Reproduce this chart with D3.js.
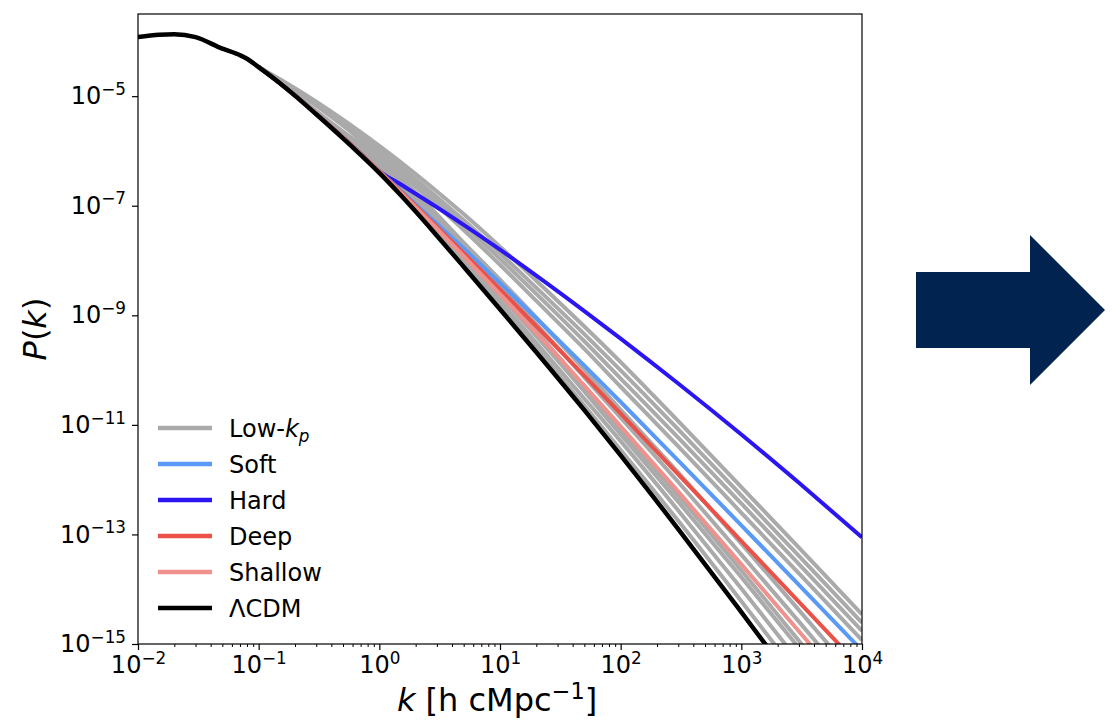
<!DOCTYPE html>
<html>
<head>
<meta charset="utf-8">
<script src="https://cdn.jsdelivr.net/npm/d3@7"></script>
<style>
  body { margin: 0; background: #fff; }
  svg { font-family: "DejaVu Sans", sans-serif; }
</style>
</head>
<body>
<div id="chart"></div>
<script>
// ---- data (P values stored as log10 exponents) ----
const kLcdm = [0.01, 0.015, 0.02, 0.03, 0.05, 0.07, 0.08, 0.1, 0.15, 0.2, 0.3, 0.5, 0.7, 1, 1.5, 2, 3, 5, 10, 20, 50, 100, 300, 1000, 3000, 10000];
const lcdmExp = [-3.92, -3.878, -3.87, -3.923, -4.133, -4.252, -4.316, -4.47, -4.763, -4.99, -5.33, -5.77, -6.07, -6.40, -6.805, -7.107, -7.547, -8.113, -8.89, -9.673, -10.732, -11.557, -12.902, -14.419, -15.821, -17.374];

const kModel = [0.1, 0.15, 0.2, 0.3, 0.5, 0.7, 1, 1.5, 2, 3, 5, 10, 20, 50, 100, 300, 1000, 3000, 10000];
const softExp = [-4.47, -4.763, -4.99, -5.325, -5.755, -6.05, -6.37, -6.72, -6.975, -7.33, -7.781, -8.413, -9.054, -9.918, -10.583, -11.651, -12.833, -13.921, -15.119];
const hardExp = [-4.47, -4.763, -4.99, -5.325, -5.755, -6.05, -6.37, -6.609, -6.782, -7.028, -7.35, -7.802, -8.275, -8.922, -9.425, -10.245, -11.176, -12.058, -13.052];
const deepExp = [-4.47, -4.763, -4.99, -5.325, -5.755, -6.05, -6.37, -6.74, -7.005, -7.382, -7.864, -8.526, -9.2, -10.103, -10.795, -11.902, -13.12, -14.231, -15.45];
const shallowExp = [-4.47, -4.763, -4.99, -5.325, -5.757, -6.055, -6.38, -6.758, -7.031, -7.42, -7.92, -8.612, -9.322, -10.285, -11.026, -12.219, -13.547, -14.768, -16.117];

// low-k_p family (grey), from the one closest to LCDM up to the highest one
const lowKpExp = [
  [-4.47, -4.763, -4.987, -5.322, -5.752, -6.042, -6.36, -6.76, -7.059, -7.495, -8.057, -8.83, -9.603, -10.647, -11.457, -12.752, -14.219, -15.581, -17.094],
  [-4.47, -4.761, -4.982, -5.31, -5.725, -6.0, -6.30, -6.695, -6.989, -7.419, -7.975, -8.74, -9.503, -10.522, -11.297, -12.562, -13.989, -15.321, -16.794],
  [-4.47, -4.759, -4.978, -5.30, -5.70, -5.965, -6.25, -6.64, -6.929, -7.352, -7.898, -8.64, -9.383, -10.392, -11.177, -12.402, -13.779, -15.071, -16.504],
  [-4.47, -4.757, -4.974, -5.29, -5.68, -5.93, -6.20, -6.585, -6.869, -7.287, -7.823, -8.55, -9.293, -10.302, -11.087, -12.292, -13.659, -14.941, -16.354],
  [-4.47, -4.755, -4.97, -5.28, -5.66, -5.90, -6.15, -6.525, -6.807, -7.217, -7.743, -8.45, -9.163, -10.132, -10.867, -12.042, -13.369, -14.591, -15.954],
  [-4.47, -4.753, -4.966, -5.272, -5.645, -5.875, -6.12, -6.485, -6.757, -7.157, -7.673, -8.35, -9.043, -9.992, -10.727, -11.872, -13.169, -14.381, -15.724],
  [-4.47, -4.71, -4.895, -5.171, -5.54, -5.798, -6.079, -6.405, -6.652, -6.999, -7.442, -8.078, -8.738, -9.614, -10.304, -11.392, -12.605, -13.712, -14.931],
  [-4.47, -4.705, -4.885, -5.151, -5.51, -5.758, -6.029, -6.345, -6.582, -6.919, -7.352, -7.968, -8.608, -9.474, -10.154, -11.232, -12.435, -13.542, -14.761],
  [-4.47, -4.70, -4.875, -5.131, -5.48, -5.718, -5.979, -6.285, -6.512, -6.839, -7.262, -7.868, -8.498, -9.344, -10.004, -11.082, -12.285, -13.392, -14.611],
  [-4.47, -4.69, -4.855, -5.101, -5.43, -5.658, -5.909, -6.205, -6.422, -6.739, -7.152, -7.748, -8.368, -9.204, -9.854, -10.932, -12.135, -13.242, -14.461]
];

const xTickExp = [-2, -1, 0, 1, 2, 3, 4];
const yTickExp = [-15, -13, -11, -9, -7, -5];
const legendNames = ["Low-k_p", "Soft", "Hard", "Deep", "Shallow", "ΛCDM"];
const legendColors = ["#aaaaaa", "#5a9af6", "#2b16f2", "#ea5249", "#ef918d", "#000000"];

// ---- layout ----
const W = 1115, H = 728;
const margin = { top: 14, right: 253, bottom: 84, left: 138 };
const width = W - margin.left - margin.right,
  height = H - margin.top - margin.bottom;

const svg = d3.select("#chart").append("svg")
  .attr("width", W)
  .attr("height", H);

const g = svg.append("g")
  .attr("transform", `translate(${margin.left},${margin.top})`);

const x = d3.scaleLog().domain([1e-2, 1e4]).range([0, width]);
const y = d3.scaleLog().domain([1e-15, Math.pow(10, -3.5)]).range([height, 0]);

g.append("clipPath").attr("id", "clip")
  .append("rect").attr("width", width).attr("height", height);

const line = d3.line()
  .x(d => x(d[0]))
  .y(d => y(Math.pow(10, d[1])))
  .curve(d3.curveMonotoneX);

const curves = g.append("g").attr("clip-path", "url(#clip)");

function drawCurve(ks, exps, color, w) {
  curves.append("path")
    .attr("d", line(ks.map((k, i) => [k, exps[i]])))
    .attr("fill", "none")
    .attr("stroke", color)
    .attr("stroke-width", w)
    .attr("stroke-linejoin", "round");
}

lowKpExp.forEach(s => drawCurve(kModel, s, legendColors[0], 4));
drawCurve(kModel, hardExp, legendColors[2], 4);
drawCurve(kModel, softExp, legendColors[1], 4);
drawCurve(kModel, deepExp, legendColors[3], 4);
drawCurve(kModel, shallowExp, legendColors[4], 4);
drawCurve(kLcdm, lcdmExp, legendColors[5], 4.5);

// ---- axes ----
function powLabel(text) {
  text.each(function (d) {
    const e = Math.round(Math.log10(d));
    const t = d3.select(this).text(null);
    t.append("tspan").text("10");
    t.append("tspan").attr("dy", -9.5).attr("font-size", "0.7em")
      .text(e < 0 ? "\u2212" + (-e) : e);
  });
}

const minorX = [];
xTickExp.slice(0, -1).forEach(e => { for (let m = 2; m < 10; m++) minorX.push(m * Math.pow(10, e)); });

g.append("g")
  .attr("transform", `translate(0,${height})`)
  .call(d3.axisBottom(x).tickValues(minorX).tickSize(3).tickFormat(""))
  .call(a => a.select(".domain").remove())
  .selectAll("line").attr("stroke-width", 1);

g.append("g")
  .attr("transform", `translate(0,${height})`)
  .call(d3.axisBottom(x).tickValues(xTickExp.map(e => Math.pow(10, e))).tickSize(6).tickPadding(6))
  .call(a => a.select(".domain").remove())
  .call(a => a.selectAll("line").attr("stroke-width", 1.2))
  .call(a => a.selectAll("text").attr("font-size", 24).attr("font-family", "DejaVu Sans").attr("fill", "#000").call(powLabel));

g.append("g")
  .call(d3.axisLeft(y).tickValues(yTickExp.map(e => Math.pow(10, e))).tickSize(6).tickPadding(6))
  .call(a => a.select(".domain").remove())
  .call(a => a.selectAll("line").attr("stroke-width", 1.2))
  .call(a => a.selectAll("text").attr("font-size", 24).attr("font-family", "DejaVu Sans").attr("fill", "#000").call(powLabel));

// frame
g.append("rect")
  .attr("width", width).attr("height", height)
  .attr("fill", "none").attr("stroke", "#000").attr("stroke-width", 1.2);

// axis labels
const xl = svg.append("text")
  .attr("x", margin.left + width / 2 - 3).attr("y", 711)
  .attr("text-anchor", "middle").attr("font-size", 32);
xl.append("tspan").attr("font-style", "italic").text("k");
xl.append("tspan").text(" [h cMpc");
xl.append("tspan").attr("dy", -12).attr("font-size", "0.7em").text("\u22121");
xl.append("tspan").attr("dy", 12).text("]");

const yl = svg.append("text")
  .attr("transform", `translate(46,${margin.top + height / 2}) rotate(-90)`)
  .attr("text-anchor", "middle").attr("font-size", 32);
yl.append("tspan").attr("font-style", "italic").text("P");
yl.append("tspan").text("(");
yl.append("tspan").attr("font-style", "italic").text("k");
yl.append("tspan").text(")");

// ---- legend ----
const leg = svg.append("g");
legendNames.forEach((name, i) => {
  const ly = 428 + i * 36;
  leg.append("line")
    .attr("x1", 158).attr("x2", 212).attr("y1", ly).attr("y2", ly)
    .attr("stroke", legendColors[i]).attr("stroke-width", 4.5);
  const t = leg.append("text").attr("x", 229).attr("y", ly + 9).attr("font-size", 24);
  if (name === "Low-k_p") {
    t.append("tspan").text("Low-");
    t.append("tspan").attr("font-style", "italic").text("k");
    t.append("tspan").attr("font-style", "italic").attr("font-size", "0.7em").attr("dy", 5).text("p");
  } else {
    t.text(name);
  }
});

// ---- arrow ----
svg.append("path")
  .attr("d", "M916,272 L1030,272 L1030,235 L1105,310 L1030,385 L1030,348 L916,348 Z")
  .attr("fill", "#002350");
</script>
</body>
</html>
